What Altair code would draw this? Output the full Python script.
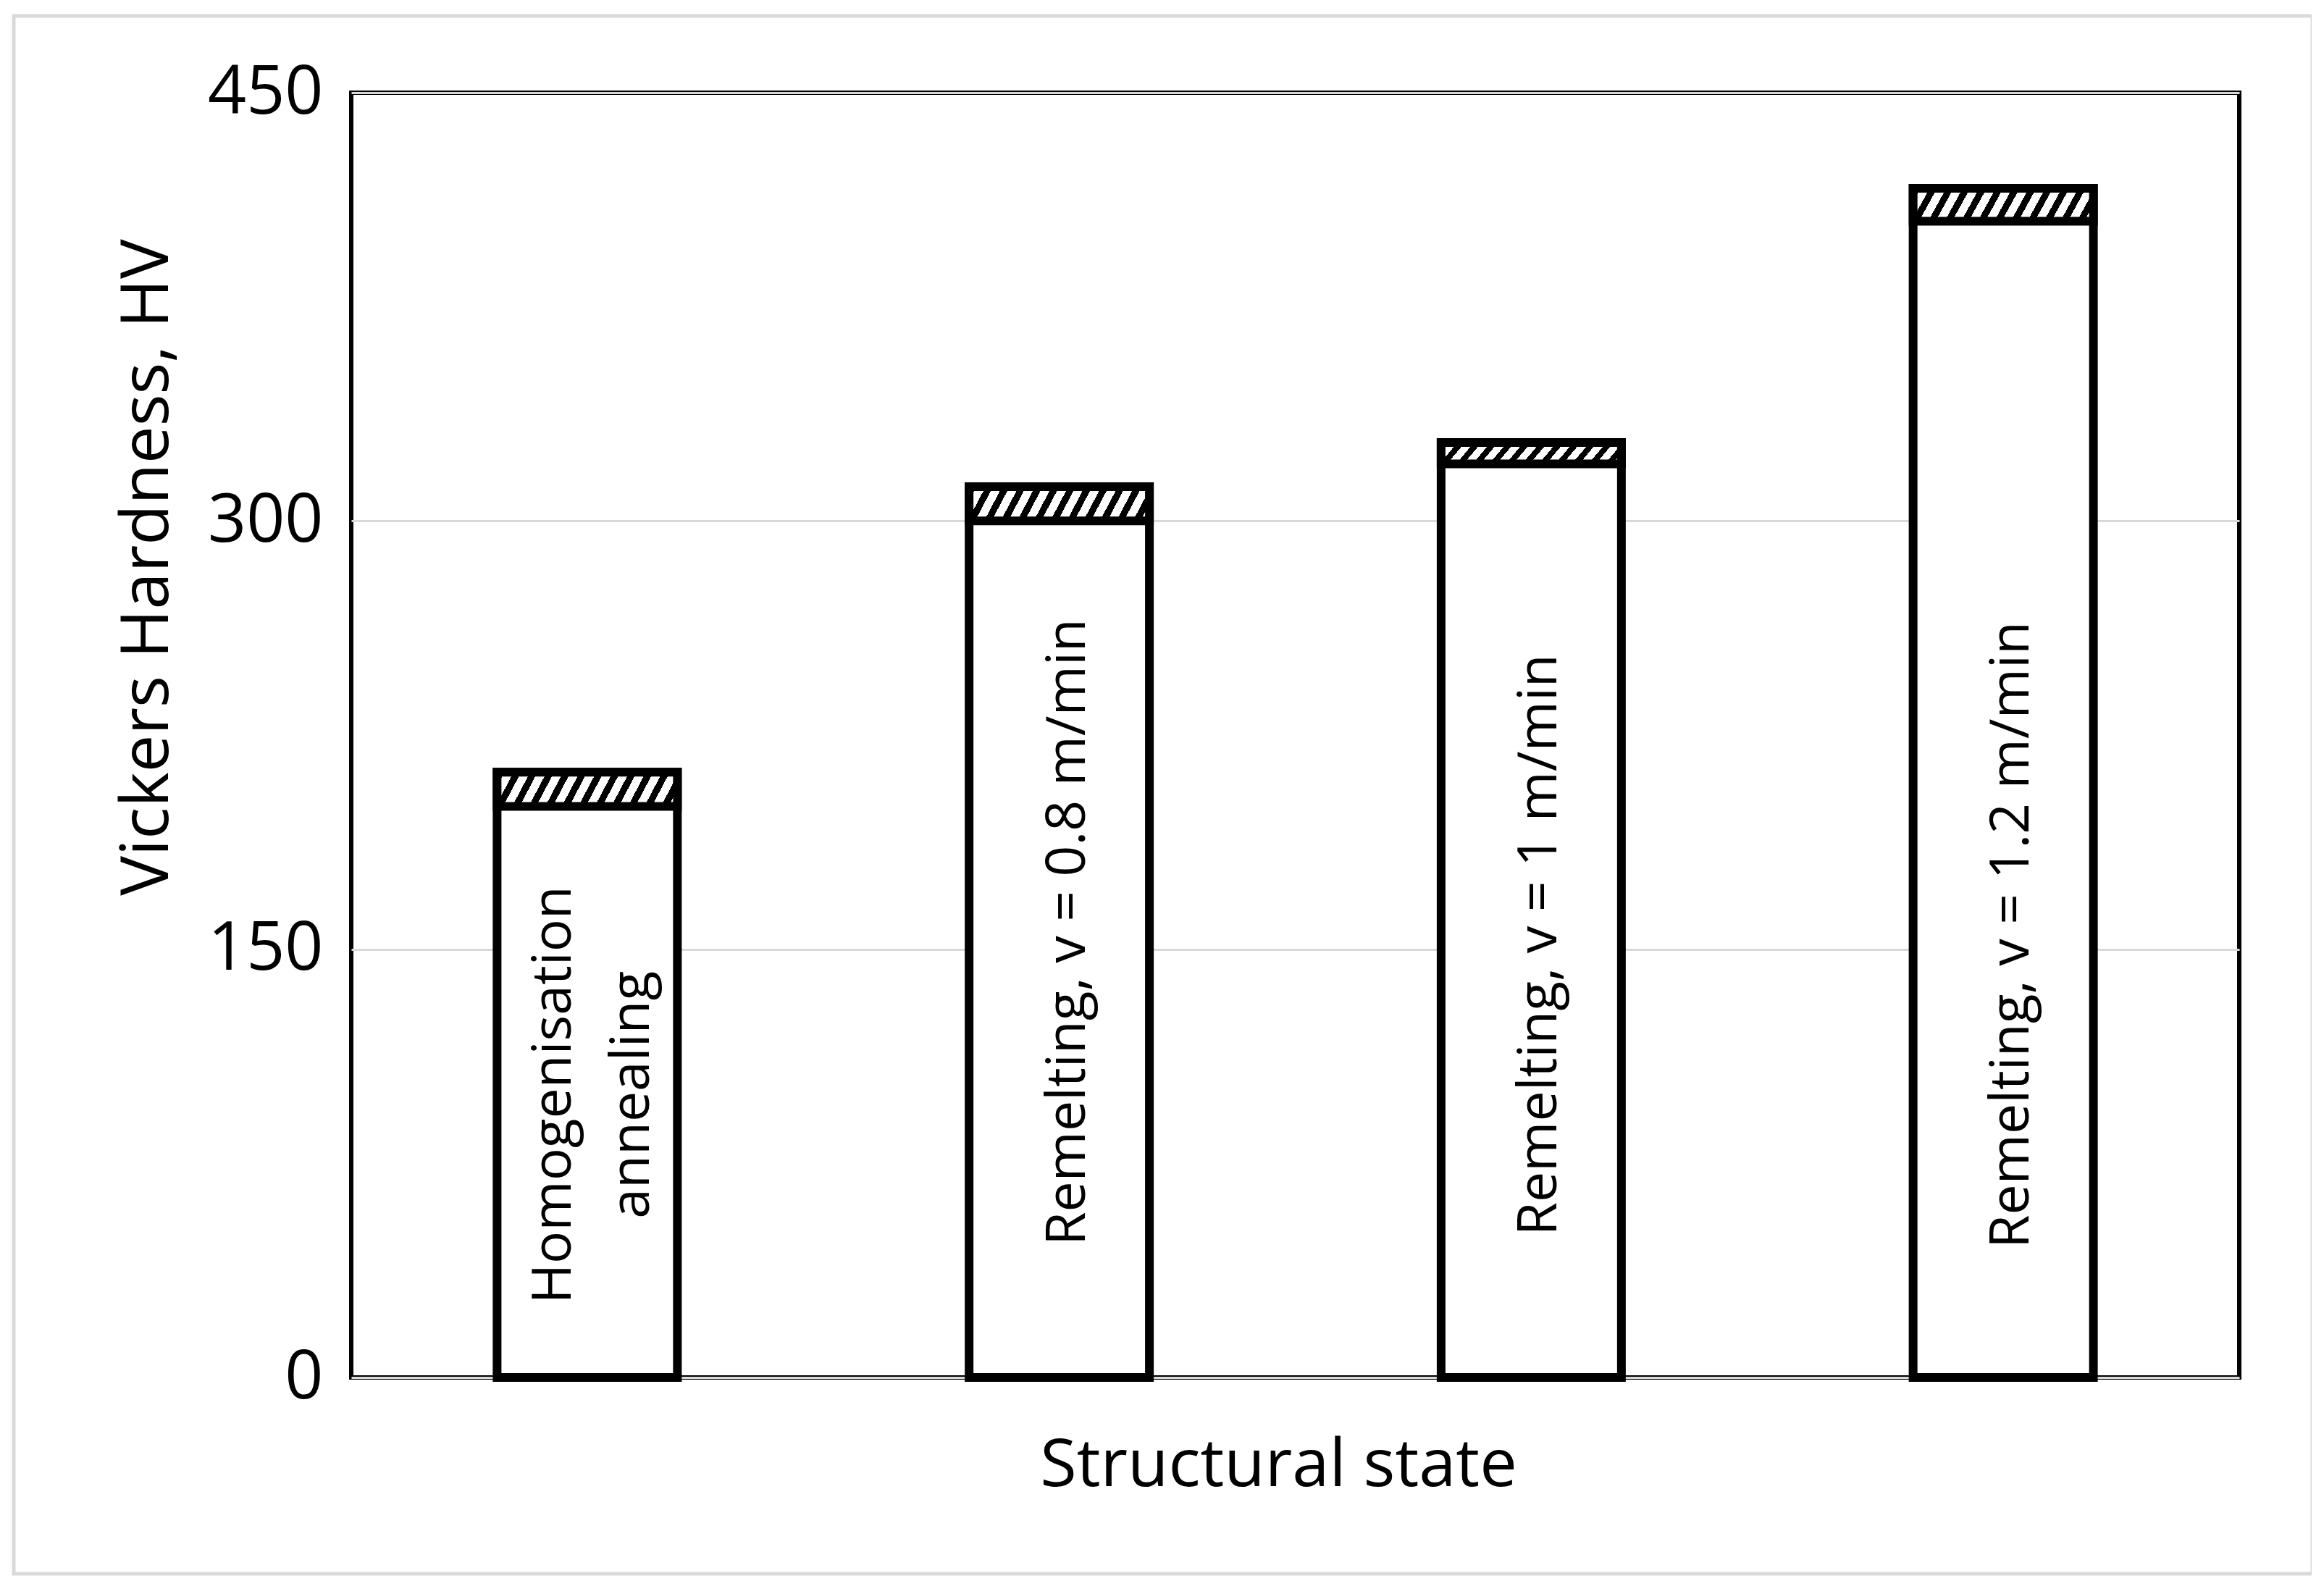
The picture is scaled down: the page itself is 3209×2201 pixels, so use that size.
import altair as alt
import pandas as pd

# ---- data ----
categories = ["Homogenisation annealing", "Remelting, v = 0.8 m/min",
              "Remelting, v = 1 m/min", "Remelting, v = 1.2 m/min"]
labels = ["Homogenisation\nannealing", "Remelting, v = 0.8 m/min",
          "Remelting, v = 1 m/min", "Remelting, v = 1.2 m/min"]
hardness = [200, 300, 320, 405]       # mean HV
deviation = [12, 12, 7.5, 11.5]       # hatched error part
label_pos = [99, 156, 151.5, 155]     # centre of the in-bar label (HV units)
y_ticks = [0, 150, 300, 450]

df = pd.DataFrame({"state": categories, "label": labels, "hv": hardness,
                   "dev": deviation, "pos": label_pos})
df["top"] = df["hv"] + df["dev"]

FONT = "Open Sans"

# hatch pattern built as a striped linear gradient
N = 12
black_frac = 0.45
stops = []
for i in range(N):
    a = i / N
    b = (i + black_frac) / N
    c = (i + 1) / N
    stops += [alt.GradientStop(color="black", offset=a),
              alt.GradientStop(color="black", offset=b),
              alt.GradientStop(color="white", offset=b),
              alt.GradientStop(color="white", offset=c)]
k = 0.1
s = (1 + k) / (1 + k * k)
hatch = alt.LinearGradient(gradient="linear", stops=stops, x1=0, y1=0, x2=s, y2=s * k)

x_enc = alt.X("state:N", sort=categories,
              scale=alt.Scale(paddingInner=0.618, paddingOuter=0.309),
              axis=alt.Axis(labels=False, ticks=False, tickSize=0, domain=False, grid=False,
                            title="Structural state", titleFont=FONT, titleFontSize=92,
                            titleFontWeight="normal", titleColor="black",
                            titleX=1280, titleY=149, titleAlign="center",
                            titleBaseline="alphabetic"))

y_scale = alt.Scale(domain=[0, 450], nice=False, zero=True)
y_axis = alt.Axis(values=y_ticks, domain=False, ticks=False, tickSize=0, grid=True,
                  gridColor="#d9d9d9", gridWidth=3,
                  labelFont=FONT, labelFontSize=93, labelColor="black", labelPadding=39,
                  title="Vickers Hardness, HV", titleFont=FONT, titleFontSize=92,
                  titleFontWeight="normal", titleColor="black", titleAngle=270,
                  titleX=-254, titleY=655, titleAlign="center", titleBaseline="alphabetic")

base = alt.Chart(df)

bars = base.mark_bar(fill="white", stroke="black", strokeWidth=12).encode(
    x=x_enc,
    y=alt.Y("top:Q", scale=y_scale, axis=y_axis),
)

hatched = base.mark_bar(fill=hatch, stroke="black", strokeWidth=12).encode(
    x=alt.X("state:N", sort=categories),
    y=alt.Y("top:Q"),
    y2=alt.Y2("hv:Q"),
)

text_kw = dict(angle=270, align="center", baseline="middle", font=FONT,
               fontSize=75, lineBreak="\n", lineHeight=108, color="black")
text_enc = dict(x=alt.X("state:N", sort=categories), y=alt.Y("pos:Q"), text="label:N")

texts_single = base.mark_text(dy=12, **text_kw).encode(**text_enc).transform_filter(
    alt.datum.state != categories[0])
texts_multi = base.mark_text(dy=-46, **text_kw).encode(**text_enc).transform_filter(
    alt.datum.state == categories[0])

frame = alt.Chart(pd.DataFrame({"f": [0]})).mark_rect(
    fill="transparent", stroke="#d9d9d9", strokeWidth=5).encode(
    x=alt.value(-466), x2=alt.value(2708), y=alt.value(-106), y2=alt.value(2045))

chart = alt.layer(frame, bars, hatched, texts_single, texts_multi).properties(
    width=2607, height=1774,
    padding={"left": 477, "top": 120, "right": 100, "bottom": 280},
    autosize=alt.AutoSizeParams(type="none"),
    background="white",
).configure_view(stroke="black", strokeWidth=6)

chart.save("out.html", embed_options={"renderer": "svg", "actions": False})
